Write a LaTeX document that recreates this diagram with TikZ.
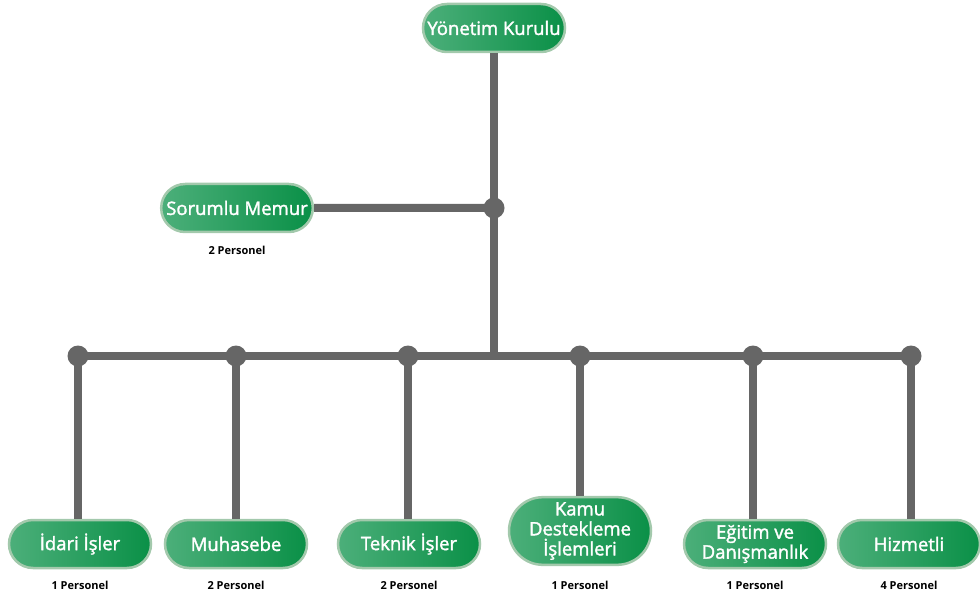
\documentclass[tikz,border=0pt]{standalone}
\usepackage{fontspec}
\setmainfont{Open Sans}
\newfontfamily\kutuyazi[FakeBold=1.8]{Open Sans}
\usetikzlibrary{shapes.misc}
\definecolor{koyuyesil}{HTML}{0A9047}
\definecolor{acikyesil}{HTML}{4CAF7A}
\definecolor{kenar}{HTML}{A3C9AC}
\definecolor{cizgi}{HTML}{666666}
\tikzset{birim/.style={rounded rectangle,left color=acikyesil,right color=koyuyesil,draw=kenar,line width=2.5pt,text=white,font=\kutuyazi\fontsize{18.5}{20}\selectfont,align=center,minimum width=150pt,minimum height=48pt,inner xsep=4pt,inner ysep=4pt},
	personel/.style={font=\fontsize{11}{13}\selectfont\bfseries},
	hat/.style={cizgi,line width=8pt},
	nokta/.style={circle,fill=cizgi,minimum size=21pt,inner sep=0pt}}
\begin{document}
\begin{tikzpicture}[x=1pt,y=-1pt]
	\useasboundingbox (0,0) rectangle (980,596);
	% ust kisim
	\node[birim] (yk) at (494,28) {Yönetim Kurulu};
	\node[birim] (sm) at (237,208) {Sorumlu Memur};
	\node[personel] (smp) at (237,250) {2 Personel};
	\node[nokta] (j) at (494,208) {};
	\coordinate (orta) at (494,356);
	\draw[hat] (yk) -- (orta);
	\draw[hat] (sm) -- (j.center);
	% noktalar
	\node[nokta] (d1) at (78,356) {};
	\node[nokta] (d2) at (236,356) {};
	\node[nokta] (d3) at (408,356) {};
	\node[nokta] (d4) at (580,356) {};
	\node[nokta] (d5) at (753,356) {};
	\node[nokta] (d6) at (911,356) {};
	\draw[hat] (d1.center) -- (d6.center);
	% birimler
	\node[birim] (idari) at (80,544) {İdari İşler};
	\node[birim] (muh) at (236,544) {Muhasebe};
	\node[birim] (teknik) at (409,544) {Teknik İşler};
	\node[birim,inner ysep=5pt] (kamu) at (580,531) {Kamu\\Destekleme\\İşlemleri};
	\node[birim] (egitim) at (755,544) {Eğitim ve\\Danışmanlık};
	\node[birim] (hiz) at (909,544) {Hizmetli};
	\foreach \a/\b in {d1/idari,d2/muh,d3/teknik,d4/kamu,d5/egitim,d6/hiz}
		\draw[hat] (\a.center) -- (\a |- \b.north);
	\node[personel] at (80,585) {1 Personel};
	\node[personel] at (236,585) {2 Personel};
	\node[personel] at (409,585) {2 Personel};
	\node[personel] at (580,585) {1 Personel};
	\node[personel] at (755,585) {1 Personel};
	\node[personel] at (909,585) {4 Personel};
\end{tikzpicture}
\end{document}
